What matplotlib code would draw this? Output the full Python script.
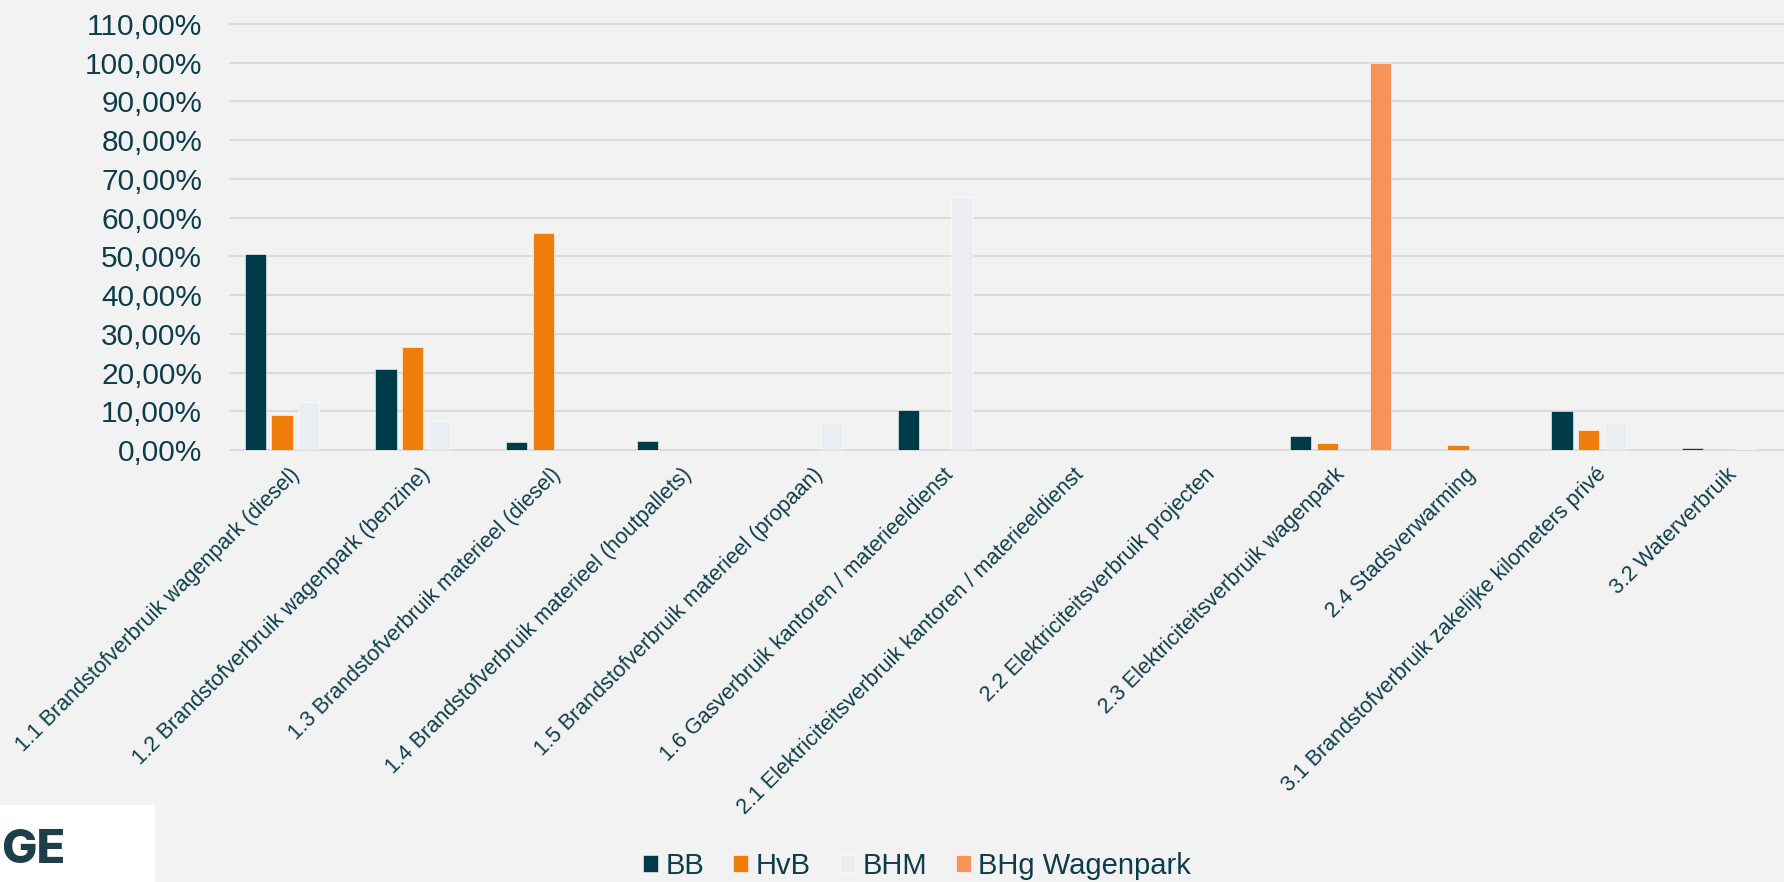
import matplotlib
matplotlib.use("Agg")
import matplotlib.pyplot as plt
import matplotlib.transforms as mtransforms
from matplotlib.patches import Rectangle
import numpy as np

categories = [
    "1.1 Brandstofverbruik wagenpark (diesel)",
    "1.2 Brandstofverbruik wagenpark (benzine)",
    "1.3 Brandstofverbruik materieel (diesel)",
    "1.4 Brandstofverbruik materieel (houtpallets)",
    "1.5 Brandstofverbruik materieel (propaan)",
    "1.6 Gasverbruik kantoren / materieeldienst",
    "2.1 Elektriciteitsverbruik kantoren / materieeldienst",
    "2.2 Elektriciteitsverbruik projecten",
    "2.3 Elektriciteitsverbruik wagenpark",
    "2.4 Stadsverwarming",
    "3.1 Brandstofverbruik zakelijke kilometers privé",
    "3.2 Waterverbruik",
]
series_names = ["BB", "HvB", "BHM", "BHg Wagenpark"]
bb = [0.505, 0.208, 0.020, 0.022, 0.0, 0.102, 0.0, 0.0, 0.037, 0.0, 0.100, 0.005]
hvb = [0.091, 0.266, 0.560, 0.0, 0.0, 0.0, 0.0, 0.0, 0.019, 0.012, 0.052, 0.0]
bhm = [0.123, 0.074, 0.0, 0.0, 0.073, 0.654, 0.0, 0.0, 0.0, 0.0, 0.073, 0.003]
bhg = [0.0, 0.0, 0.0, 0.0, 0.0, 0.0, 0.0, 0.0, 1.000, 0.0, 0.0, 0.0]
yticks = [i / 10 for i in range(12)]

colors = ["#003B49", "#EF7D0C", "#EAEEF3", "#F79259"]
text_color = "#0E3D4A"
bg = "#F2F2F2"

W, H = 1784, 882
fig = plt.figure(figsize=(W / 100, H / 100), dpi=100, facecolor=bg)
plt.rcParams["font.family"] = ["Liberation Sans", "DejaVu Sans"]

left, right = 230, 1798
top, bottom = 24, 450
ax = fig.add_axes([left / W, (H - bottom) / H, (right - left) / W, (bottom - top) / H])
ax.set_facecolor(bg)

x = np.arange(len(categories))
pitch = 0.204
bw = 0.162
for i, (vals, name) in enumerate(zip([bb, hvb, bhm, bhg], series_names)):
    ax.bar(x + (i - 1.5) * pitch, vals, width=bw, color=colors[i], label=name,
           edgecolor="white", linewidth=0.4, zorder=3)

ax.set_xlim(-0.5, len(categories) - 0.5)
ax.set_ylim(0, 1.1)
ax.set_yticks(yticks)
ax.set_yticklabels([f"{v*100:.2f}%".replace(".", ",") for v in yticks],
                   fontsize=21.5, color=text_color)
ax.yaxis.grid(True, color="#D9D9D9", linewidth=1.3, zorder=0)
for gl in ax.get_ygridlines():
    gl.set_clip_on(False)
ax.tick_params(axis="y", length=0, pad=20)
ax.tick_params(axis="x", length=0, pad=0)
for s in ax.spines.values():
    s.set_visible(False)

ax.set_xticks(x)
ax.set_xticklabels(categories, rotation=45, ha="right", va="top",
                   rotation_mode="anchor", fontsize=15.5, color=text_color)
offset = mtransforms.ScaledTranslation(-6 / 100, -14 / 100, fig.dpi_scale_trans)
for lbl in ax.get_xticklabels():
    lbl.set_transform(lbl.get_transform() + offset)

leg = fig.legend(loc="center", bbox_to_anchor=(917 / W, (H - 866) / H), ncol=4,
                 frameon=False, fontsize=21, handlelength=0.52, handleheight=0.52,
                 handletextpad=0.25, columnspacing=1.0, borderpad=0)
for t in leg.get_texts():
    t.set_color(text_color)

# partial logo in the lower-left corner
fig.patches.append(Rectangle((0, 0), 155 / W, (H - 805) / H, transform=fig.transFigure,
                             facecolor="white", edgecolor="none", zorder=1))
fig.text(1 / W, (H - 863) / H, "GE", ha="left", va="baseline", fontsize=34,
         fontweight="heavy", family=["Inter", "DejaVu Sans"], color="#1E3F4A", zorder=2)

fig.savefig("out.png", dpi=100, facecolor=bg)
